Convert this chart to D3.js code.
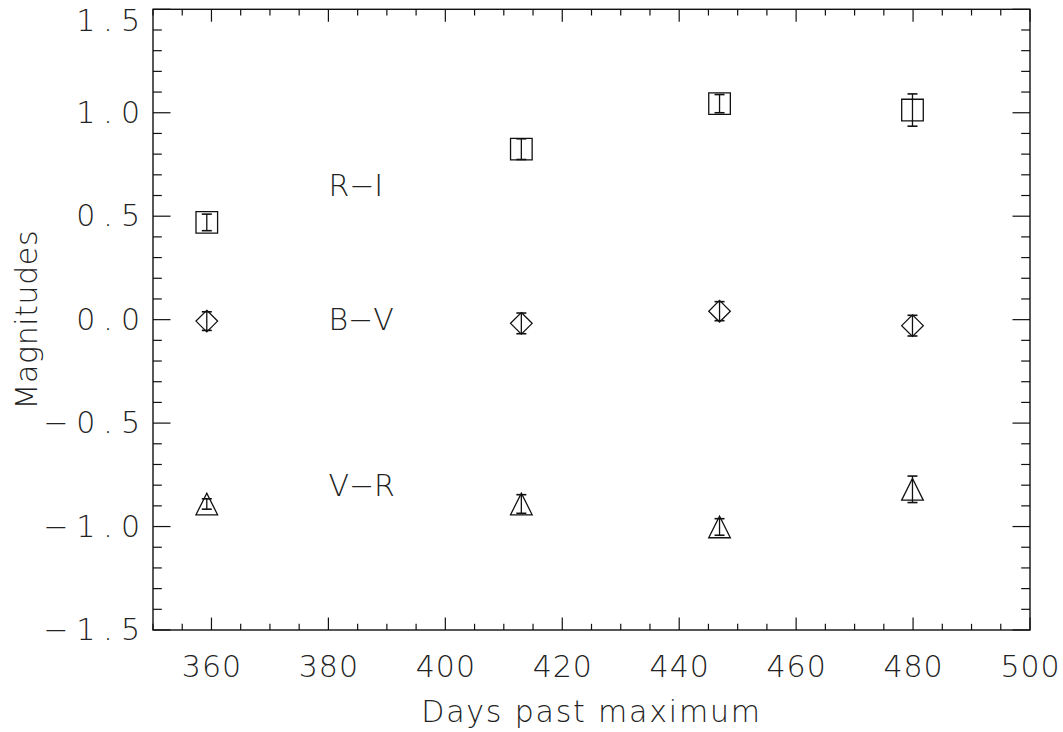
<!DOCTYPE html>
<html>
<head>
<meta charset="utf-8">
<script src="https://cdn.jsdelivr.net/npm/d3@7"></script>
<style>
  html, body { margin: 0; padding: 0; background: #fff; }
  svg text { font-family: "DejaVu Sans", sans-serif; font-weight: 200; fill: #222; }
</style>
</head>
<body>
<svg id="chart" width="1063" height="732"></svg>
<script>
// ---- data ----
const days = [359.2, 413.0, 446.9, 479.9];
const riValues = [0.47, 0.824, 1.044, 1.013];
const riErrors = [0.04, 0.05, 0.044, 0.078];
const bvValues = [-0.007, -0.018, 0.041, -0.029];
const bvErrors = [0.045, 0.05, 0.046, 0.05];
const vrValues = [-0.891, -0.891, -1.002, -0.82];
const vrErrors = [0.025, 0.045, 0.04, 0.064];
const xTicks = [360, 380, 400, 420, 440, 460, 480, 500];
const yTicks = [-1.5, -1.0, -0.5, 0.0, 0.5, 1.0, 1.5];
const seriesLabels = [
  { text: "R\u2212I", x: 380, y: 0.6 },
  { text: "B\u2212V", x: 380, y: -0.05 },
  { text: "V\u2212R", x: 380, y: -0.85 }
];

// ---- layout ----
const svg = d3.select("#chart");
const pLeft = 153, pRight = 1030, pTop = 9.3, pBottom = 630;
const x = d3.scaleLinear().domain([350, 500]).range([pLeft, pRight]);
const y = d3.scaleLinear().domain([-1.5, 1.5]).range([pBottom, pTop]);
const W = pRight - pLeft, H = pBottom - pTop;
const xMajor = 12.4, xMinor = 6.2, yMajor = 17.5, yMinor = 8.8;
const stroke = "#111";

const g = svg.append("g");

// frame
g.append("rect").attr("x", pLeft).attr("y", pTop).attr("width", W).attr("height", H)
  .attr("fill", "none").attr("stroke", stroke).attr("stroke-width", 1.4);

const xMinorTicks = d3.range(350, 500.01, 5);
const yMinorTicks = d3.range(-15, 15.01, 1).map(v => v / 10);

// x ticks bottom & top
xMinorTicks.forEach(v => {
  const len = (Math.round(v) % 20 === 0) ? xMajor : xMinor;
  g.append("line").attr("x1", x(v)).attr("x2", x(v)).attr("y1", pBottom).attr("y2", pBottom - len)
    .attr("stroke", stroke).attr("stroke-width", 1.2);
  g.append("line").attr("x1", x(v)).attr("x2", x(v)).attr("y1", pTop).attr("y2", pTop + len)
    .attr("stroke", stroke).attr("stroke-width", 1.2);
});
// y ticks left & right
yMinorTicks.forEach(v => {
  const r = Math.round(v * 10);
  const len = (r % 5 === 0) ? yMajor : yMinor;
  g.append("line").attr("x1", pLeft).attr("x2", pLeft + len).attr("y1", y(v)).attr("y2", y(v))
    .attr("stroke", stroke).attr("stroke-width", 1.2);
  g.append("line").attr("x1", pRight).attr("x2", pRight - len).attr("y1", y(v)).attr("y2", y(v))
    .attr("stroke", stroke).attr("stroke-width", 1.2);
});

// tick labels via d3 axes (no tick lines)
const xAxis = d3.axisBottom(x).tickValues(xTicks).tickSize(0).tickPadding(0).tickFormat(d3.format("d"));
const xg = svg.append("g").attr("transform", `translate(0,${pBottom + 26})`).call(xAxis);
xg.select(".domain").remove();
xg.selectAll("text").attr("font-size", 30).attr("dy", "0.71em").attr("fill", "#222")
  .style("font-family", "DejaVu Sans, sans-serif").style("font-weight", 200)
  .style("letter-spacing", "1px");

const yAxis = d3.axisLeft(y).tickValues(yTicks).tickSize(0).tickPadding(0)
  .tickFormat(d => d < 0 ? "\u2212" + d3.format(".1f")(-d) : d3.format(".1f")(d));
const yg = svg.append("g").attr("transform", `translate(${pLeft - 5},0)`).call(yAxis);
yg.select(".domain").remove();
yg.selectAll("text").attr("font-size", 30).attr("fill", "#222")
  .style("font-family", "DejaVu Sans, sans-serif").style("font-weight", 200)
  .style("letter-spacing", "8px");
// top label sits lower so it stays inside the picture, as in the reference
yg.selectAll(".tick").filter(d => d === 1.5).select("text").attr("y", 12);

// axis titles
svg.append("text").attr("x", (pLeft + pRight) / 2).attr("y", 722).attr("text-anchor", "middle")
  .attr("font-size", 30).style("letter-spacing", "1.8px").text("Days past maximum");
svg.append("text").attr("transform", `translate(37,${(pTop + pBottom) / 2}) rotate(-90)`)
  .attr("text-anchor", "middle").attr("font-size", 30).style("letter-spacing", "0.6px").text("Magnitudes");

// series labels
seriesLabels.forEach(l => {
  svg.append("text").attr("x", x(l.x)).attr("y", y(l.y)).attr("font-size", 30).text(l.text);
});

// markers
const s = 10.8; // half-size in px
function drawSeries(vals, errs, shape) {
  vals.forEach((v, i) => {
    const cx = x(days[i]), cy = y(v);
    let d;
    if (shape === "square") d = `M${cx - s},${cy - s}H${cx + s}V${cy + s}H${cx - s}Z`;
    else if (shape === "diamond") d = `M${cx},${cy - s}L${cx + s},${cy}L${cx},${cy + s}L${cx - s},${cy}Z`;
    else d = `M${cx - s},${cy + s}L${cx},${cy - s}L${cx + s},${cy + s}Z`;
    svg.append("path").attr("d", d).attr("fill", "none").attr("stroke", stroke).attr("stroke-width", 1.3);
    const y1 = y(v + errs[i]), y2 = y(v - errs[i]);
    svg.append("line").attr("x1", cx).attr("x2", cx).attr("y1", y1).attr("y2", y2)
      .attr("stroke", stroke).attr("stroke-width", 1.3);
    [y1, y2].forEach(yy => svg.append("line").attr("x1", cx - 5).attr("x2", cx + 5)
      .attr("y1", yy).attr("y2", yy).attr("stroke", stroke).attr("stroke-width", 1.6));
  });
}
drawSeries(riValues, riErrors, "square");
drawSeries(bvValues, bvErrors, "diamond");
drawSeries(vrValues, vrErrors, "triangle");
</script>
</body>
</html>
